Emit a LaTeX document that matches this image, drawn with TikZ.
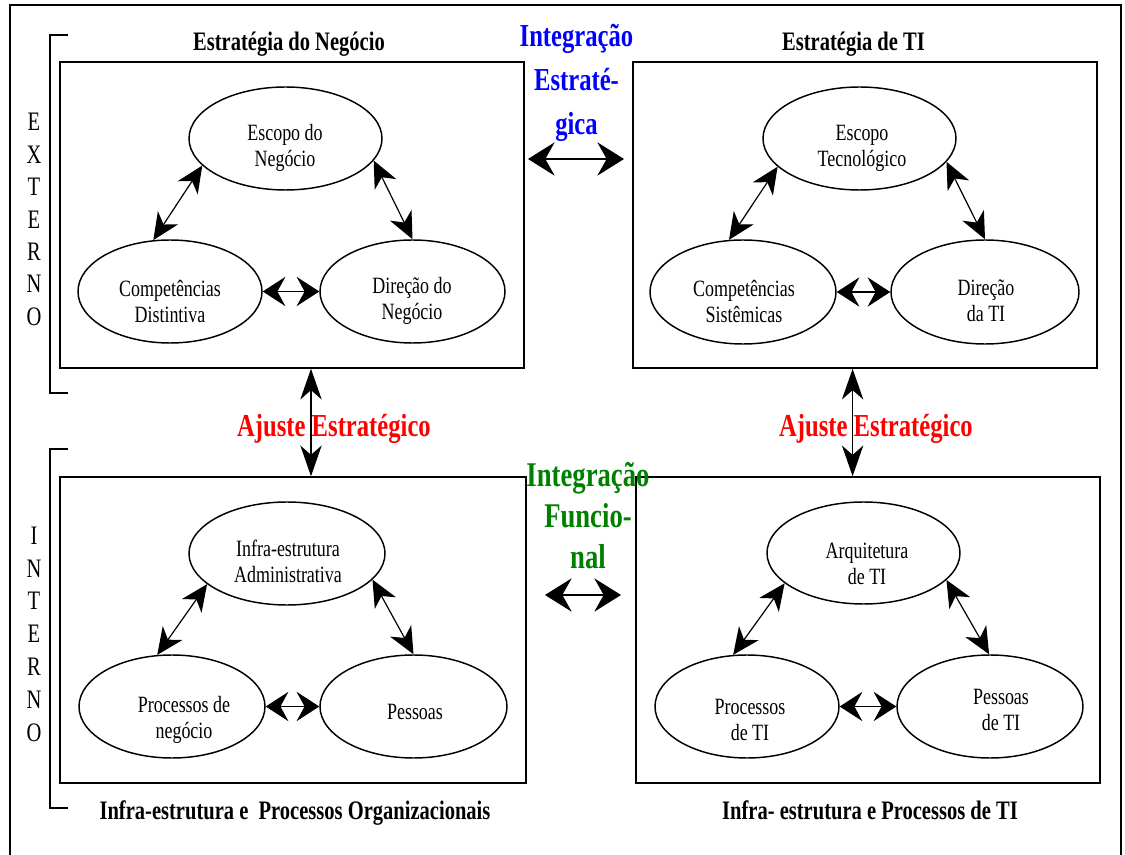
\documentclass[tikz,border=0pt]{standalone}
\usepackage{fontspec}
\setmainfont{Liberation Serif}[FakeStretch=0.77]
\usetikzlibrary{arrows.meta,shapes.geometric}

\definecolor{ieblue}{RGB}{0,0,255}
\definecolor{ajred}{RGB}{255,0,0}
\definecolor{ifgreen}{RGB}{0,128,0}

\begin{document}
\begin{tikzpicture}[x=0.75pt,y=-0.75pt,
  panel/.style={draw, rectangle, line width=1.2pt, inner sep=0pt},
  ell/.style 2 args={draw, ellipse, line width=1.1pt, inner sep=0pt,
    minimum width=#1*0.75pt, minimum height=#2*0.75pt},
  etx/.style={align=center, inner sep=0pt, font=\fontsize{17.5}{19.5}\selectfont},
  ttl/.style={inner sep=0pt, anchor=base, font=\bfseries\fontsize{20}{24}\selectfont},
  bigtxt/.style={align=center, inner sep=0pt, font=\bfseries\fontsize{24}{33}\selectfont},
  side/.style={align=center, inner sep=0pt, font=\fontsize{20}{24.3}\selectfont},
  pair/.style={line width=0.9pt, {Stealth[length=20pt,width=18pt,inset=6pt]}-{Stealth[length=20pt,width=18pt,inset=6pt]}},
  pairh/.style={line width=0.9pt, {Stealth[length=17pt,width=22pt,inset=6pt]}-{Stealth[length=17pt,width=22pt,inset=6pt]}},
  bigh/.style={line width=1.1pt, {Stealth[length=20pt,width=25pt,inset=7pt]}-{Stealth[length=20pt,width=25pt,inset=7pt]}},
  bigv/.style={line width=1.1pt, {Stealth[length=23pt,width=16pt,inset=7pt]}-{Stealth[length=23pt,width=16pt,inset=7pt]}},
  bracket/.style={line width=1.3pt}
]
\useasboundingbox (0,0) rectangle (1125,855);

% outer frame
\draw[line width=1pt] (10,855) -- (10,5) -- (1121,5) -- (1121,855);

% side brackets
\draw[bracket] (68,35) -- (50,35) -- (50,393) -- (68,393);
\draw[bracket] (68,449) -- (50,449) -- (50,808) -- (68,808);
\node[side] (ext) at (34,219.6) {E\\X\\T\\E\\R\\N\\O};
\node[side,font=\fontsize{20}{24.6}\selectfont] (int) at (34,634) {I\\N\\T\\E\\R\\N\\O};

% four panels
\node[panel, minimum width=464*0.75pt, minimum height=306*0.75pt] (tl) at (292,215) {};
\node[panel, minimum width=464*0.75pt, minimum height=306*0.75pt] (tr) at (865,215) {};
\node[panel, minimum width=466*0.75pt, minimum height=306*0.75pt] (bl) at (293,630) {};
\node[panel, minimum width=464*0.75pt, minimum height=306*0.75pt] (br) at (868,630) {};

% panel titles
\node[ttl] (tlT) at (289,51) {Estratégia do Negócio};
\node[ttl] (trT) at (853.5,51) {Estratégia de TI};
\node[ttl] (blT) at (295,819) {Infra-estrutura e\ \ Processos Organizacionais};
\node[ttl] (brT) at (870,819) {Infra- estrutura e Processos de TI};

% business strategy
\node[ell={193}{103}] (esc) at (285.5,138.5) {};
\node[ell={184}{103}] (comp) at (170,291.5) {};
\node[ell={185}{103}] (dir) at (412.5,291.5) {};
\node[etx] (escT) at (285,148) {Escopo do\\Negócio};
\node[etx] (compT) at (170,301) {Competências\\Distintiva};
\node[etx] (dirT) at (412,301) {Direção do\\Negócio};
\draw[pair] (esc.198) -- (comp.108);
\draw[pair] (esc.346) -- (dir.90);
\draw[pairh] (comp.east) -- (dir.west);

% IT strategy
\node[ell={193}{103}] (esct) at (859.5,138.5) {};
\node[ell={186}{104}] (comps) at (743,292) {};
\node[ell={188}{104}] (dirt) at (985,292) {};
\node[etx] (esctT) at (862,148) {Escopo\\Tecnológico};
\node[etx] (compsT) at (744,301) {Competências\\Sistêmicas};
\node[etx] (dirtT) at (986,301) {Direção\\da TI};
\draw[pair] (esct.199) -- (comps.105);
\draw[pair] (esct.345) -- (dirt.90);
\draw[pairh] (comps.east) -- (dirt.west);

% organizational infrastructure
\node[ell={196}{103}] (infra) at (287,553.5) {};
\node[ell={186}{103}] (proc) at (172,706.5) {};
\node[ell={187}{103}] (pess) at (413.5,706.5) {};
\node[etx] (infraT) at (288,561.5) {Infra-estrutura\\Administrativa};
\node[etx] (procT) at (184,720) {Processos de\\negócio};
\node[etx] (pessT) at (415,711.7) {Pessoas};
\draw[pair] (infra.201) -- (proc.106);
\draw[pair] (infra.343) -- (pess.90);
\draw[pairh] (proc.east) -- (pess.west);

% IT infrastructure
\node[ell={193}{102}] (arq) at (863.5,553) {};
\node[ell={184}{103}] (proct) at (747,706.5) {};
\node[ell={186}{103}] (pesst) at (990,706.5) {};
\node[etx] (arqT) at (867,563.7) {Arquitetura\\de TI};
\node[etx] (proctT) at (750,720) {Processos\\de TI};
\node[etx] (pesstT) at (1001,710) {Pessoas\\de TI};
\draw[pair] (arq.201) -- (proct.105);
\draw[pair] (arq.342) -- (pesst.91);
\draw[pairh] (proct.east) -- (pesst.west);

% strategic integration (horizontal, top)
\node[bigtxt, text=ieblue] (ie) at (576.5,83) {Integração\\Estraté-\\gica};
\coordinate (ieL) at (528,159);
\coordinate (ieR) at (624,159);
\draw[bigh] (ieL) -- (ieR);

% functional integration (horizontal, bottom)
\node[bigtxt, text=ifgreen, font=\bfseries\fontsize{26}{30.75}\selectfont] (if) at (588,515.5) {Integração\\Funcio-\\nal};
\coordinate (ifL) at (545,595);
\coordinate (ifR) at (621,595);
\draw[bigh] (ifL) -- (ifR);

% strategic fit (vertical)
\coordinate (ajL) at (311,0);
\coordinate (ajR) at (852.6,0);
\draw[bigv] (tl.south -| ajL) -- (bl.north -| ajL);
\draw[bigv] (tr.south -| ajR) -- (br.north -| ajR);
\node[bigtxt, anchor=base, text=ajred] (ajLT) at (334,437) {Ajuste Estratégico};
\node[bigtxt, anchor=base, text=ajred] (ajRT) at (876,437) {Ajuste Estratégico};
\end{tikzpicture}
\end{document}
